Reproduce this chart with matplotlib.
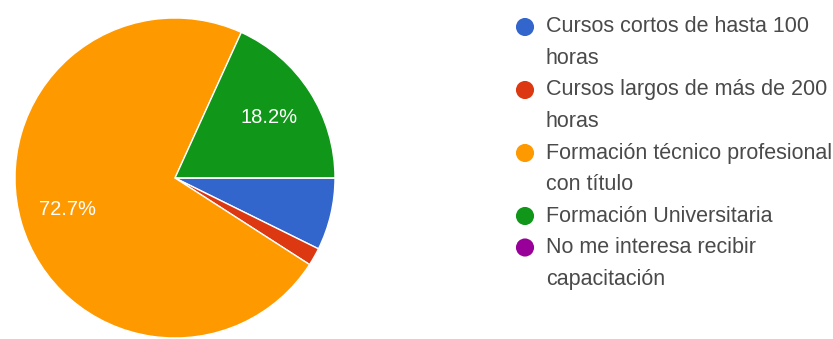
import matplotlib
matplotlib.use("Agg")
import matplotlib.pyplot as plt

# Response shares for each training option
categories = [
    "Cursos cortos de hasta 100 horas",
    "Cursos largos de más de 200 horas",
    "Formación técnico profesional con título",
    "Formación Universitaria",
    "No me interesa recibir capacitación",
]
legend_lines = [
    ["Cursos cortos de hasta 100", "horas"],
    ["Cursos largos de más de 200", "horas"],
    ["Formación técnico profesional", "con título"],
    ["Formación Universitaria"],
    ["No me interesa recibir", "capacitación"],
]
values = [7.3, 1.8, 72.7, 18.2, 0.0]
colors = ["#3366cc", "#dc3912", "#ff9900", "#109618", "#990099"]

W, H = 833, 339
fig = plt.figure(figsize=(W / 100, H / 100), dpi=100)
fig.patch.set_facecolor("white")

# Pie axes: centre (175, 178) px, radius 160 px
cx, cy, r = 175, 178, 160
ax = fig.add_axes([(cx - r) / W, (H - cy - r) / H, 2 * r / W, 2 * r / H])


def pct_label(p):
    return f"{p:.1f}%" if p >= 10 else ""


wedges, texts, autotexts = ax.pie(
    values,
    colors=colors,
    startangle=0,
    counterclock=False,
    autopct=pct_label,
    pctdistance=0.7,
    wedgeprops=dict(edgecolor="white", linewidth=1),
    textprops=dict(color="white", fontsize=14.5, family=["Liberation Sans", "DejaVu Sans"]),
)
ax.set_aspect("equal")
ax.set_xlim(-1, 1)
ax.set_ylim(-1, 1)
ax.axis("off")

# Legend drawn as a column of coloured dots with wrapped labels
lax = fig.add_axes([0, 0, 1, 1])
lax.set_xlim(0, W)
lax.set_ylim(H, 0)
lax.axis("off")

line_h = 31.5
y = 27
for lines, col in zip(legend_lines, colors):
    lax.scatter([525], [y], s=170, color=col, edgecolors="none")
    for i, txt in enumerate(lines):
        lax.text(546, y + i * line_h, txt, fontsize=15.5, color="#4a4a4a",
                 va="center", ha="left", family=["Liberation Sans", "DejaVu Sans"])
    y += line_h * len(lines)

fig.savefig("out.png", dpi=100, facecolor="white")
